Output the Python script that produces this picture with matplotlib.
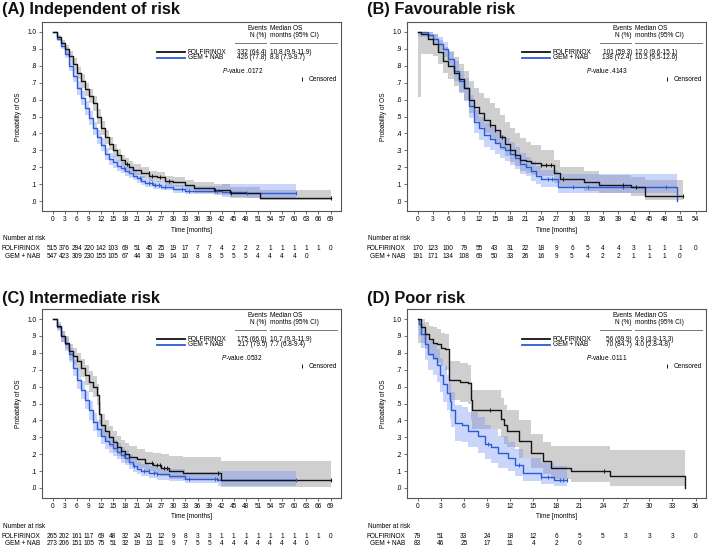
import numpy as np
import matplotlib
matplotlib.use("Agg")
import matplotlib.pyplot as plt

plt.rcParams['font.family'] = ['Liberation Sans', 'DejaVu Sans']
plt.rcParams['mathtext.fontset'] = 'custom'
plt.rcParams['mathtext.it'] = 'Liberation Sans:italic'
plt.rcParams['mathtext.rm'] = 'Liberation Sans'

# ---------------- data ----------------
# (A) Independent of risk
a_fol_t = [0, 1, 2, 3, 4, 5, 6, 7, 8, 9, 10, 11, 12, 13, 14, 15, 16, 17, 18, 19, 20, 22, 24, 26, 28, 30, 33, 35, 40, 44, 51.5, 69]
a_fol_s = [1.0, .97, .935, .90, .86, .81, .76, .71, .66, .62, .58, .50, .43, .38, .34, .30, .27, .24, .22, .20, .185, .165, .15, .14, .12, .11, .095, .075, .065, .05, .02, .02]
a_fol_lo = [1.0, .955, .91, .87, .83, .775, .72, .67, .62, .58, .535, .455, .39, .34, .30, .26, .235, .205, .185, .17, .155, .135, .12, .11, .09, .08, .065, .05, .035, .02, .003, .003]
a_fol_hi = [1.0, .985, .955, .925, .89, .845, .795, .75, .70, .66, .62, .545, .475, .42, .38, .34, .31, .275, .255, .235, .22, .20, .18, .17, .15, .14, .125, .11, .10, .085, .065, .065]
a_fol_cens = [18.5, 23.9, 24.7, 26.8, 28.9, 40.4, 44.2, 69]
a_gem_t = [0, 1, 2, 3, 4, 5, 6, 7, 8, 9, 10, 11, 12, 13, 14, 15, 16, 17, 18, 19, 20, 21, 22, 23, 25, 27, 30, 33, 42, 48, 60.5]
a_gem_s = [1.0, .96, .92, .87, .80, .74, .67, .61, .55, .49, .43, .38, .33, .28, .25, .23, .21, .195, .18, .165, .15, .135, .12, .108, .095, .085, .07, .062, .055, .05, .05]
a_gem_lo = [1.0, .945, .90, .845, .77, .705, .63, .57, .51, .45, .39, .34, .295, .245, .215, .195, .18, .165, .15, .135, .122, .108, .095, .085, .072, .063, .05, .04, .025, .02, .02]
a_gem_hi = [1.0, .975, .94, .895, .83, .775, .71, .65, .59, .53, .47, .42, .37, .315, .285, .265, .245, .23, .21, .195, .18, .165, .148, .135, .12, .11, .095, .09, .10, .10, .10]
a_gem_cens = [17.7, 21.8, 23.9, 24.7, 25.5, 26.4, 28.0, 32.2, 33.8, 40.9, 48.3, 60.5]
a_risk_fol = [515, 376, 294, 220, 142, 103, 69, 51, 45, 25, 19, 17, 7, 7, 4, 2, 2, 2, 1, 1, 1, 1, 1, 0]
a_risk_gem = [547, 423, 309, 230, 155, 105, 67, 44, 30, 19, 14, 10, 8, 8, 5, 5, 5, 4, 4, 4, 4, 0]
a_stats = [["332 (64.4)", "10.8 (9.9-11.9)"], ["426 (77.8)", "8.8 (7.9-9.7)"]]
a_pval = ".0172"

# (B) Favourable risk
b_fol_t = [0, 0.6, 2, 3, 4, 5, 6, 7, 8, 9, 10, 11, 12, 13, 14, 15, 16, 17, 18, 19, 20, 21, 22, 24, 26.5, 27.7, 32.4, 35.3, 41.5, 44.1, 51.5]
b_fol_s = [1.0, .99, .96, .93, .88, .83, .80, .76, .72, .67, .60, .555, .52, .48, .45, .42, .38, .34, .30, .275, .245, .235, .225, .215, .165, .13, .11, .095, .08, .03, .03]
b_fol_lo = [.615, .87, .87, .86, .81, .76, .72, .68, .64, .59, .52, .475, .44, .40, .37, .34, .30, .265, .23, .205, .175, .165, .155, .145, .105, .075, .06, .045, .03, .003, .003]
b_fol_hi = [1.0, 1.0, 1.0, .99, .95, .91, .88, .85, .81, .77, .71, .67, .64, .61, .58, .55, .51, .47, .43, .40, .37, .35, .33, .30, .24, .20, .175, .155, .14, .125, .125]
b_fol_cens = [14.0, 15.0, 16.5, 24.0, 25.0, 26.0, 28.2, 39.9, 42.5, 51.5]
b_gem_t = [0, 2, 3, 4, 5, 6, 7, 8, 9, 10, 11, 12, 13, 14, 15, 16, 17, 18, 19, 20, 21, 22, 23, 24, 27.2, 50.4]
b_gem_s = [1.0, .98, .96, .93, .90, .84, .77, .71, .67, .56, .47, .43, .39, .365, .345, .32, .30, .28, .255, .22, .20, .175, .15, .13, .085, 0.0]
b_gem_lo = [.97, .95, .93, .89, .85, .79, .71, .645, .60, .49, .40, .36, .32, .30, .28, .255, .235, .215, .19, .16, .145, .12, .10, .08, .05, 0.0]
b_gem_hi = [1.0, 1.0, .99, .97, .94, .89, .83, .77, .73, .63, .54, .50, .46, .435, .415, .39, .37, .35, .32, .285, .26, .235, .21, .185, .158, 0.0]
b_gem_cens = [25.4, 26.2, 30.3, 33.1, 39.9, 48.3]
b_risk_fol = [170, 123, 100, 79, 55, 43, 31, 22, 18, 9, 6, 5, 4, 4, 3, 1, 1, 1, 0]
b_risk_gem = [191, 171, 134, 108, 69, 50, 33, 26, 16, 9, 5, 4, 2, 2, 1, 1, 1, 0]
b_stats = [["101 (59.3)", "12.0 (9.6-15.1)"], ["138 (72.4)", "10.5 (9.5-12.6)"]]
b_pval = ".4143"

# (C) Intermediate risk
c_fol_t = [0, 1, 2, 3, 4, 5, 6, 7, 8, 9, 10, 11, 11.5, 12, 13, 14, 15, 16, 17, 18, 19, 21, 23, 25, 27, 29, 32.5, 41.7, 69]
c_fol_s = [1.0, .96, .90, .86, .81, .78, .75, .71, .67, .63, .60, .55, .44, .37, .34, .30, .27, .245, .22, .20, .185, .17, .15, .135, .12, .10, .09, .047, .047]
c_fol_lo = [1.0, .94, .865, .82, .76, .73, .695, .655, .61, .57, .54, .49, .38, .31, .28, .245, .215, .19, .17, .15, .135, .12, .10, .085, .07, .055, .045, .005, .005]
c_fol_hi = [1.0, .98, .93, .90, .855, .83, .80, .765, .725, .69, .66, .615, .51, .44, .40, .365, .335, .31, .285, .265, .25, .23, .215, .205, .20, .19, .185, .16, .16]
c_fol_cens = [24.7, 25.9, 26.8, 27.6, 28.4, 41.2, 69]
c_gem_t = [0, 1, 2, 3, 4, 5, 6, 7, 8, 9, 10, 11, 12, 13, 14, 15, 16, 17, 18, 19, 20, 21, 22, 24, 26, 29, 33, 41, 60.5]
c_gem_s = [1.0, .95, .90, .85, .79, .71, .64, .58, .52, .46, .39, .35, .31, .28, .26, .235, .215, .195, .18, .155, .13, .115, .10, .09, .08, .07, .055, .047, .047]
c_gem_lo = [1.0, .93, .865, .81, .745, .66, .585, .525, .465, .405, .335, .30, .26, .23, .21, .19, .17, .15, .135, .115, .095, .08, .07, .06, .05, .04, .03, .012, .012]
c_gem_hi = [1.0, .97, .93, .885, .83, .755, .69, .635, .575, .515, .445, .405, .365, .33, .31, .285, .265, .245, .225, .20, .175, .155, .14, .13, .12, .11, .095, .10, .10]
c_gem_cens = [17.7, 20.2, 22.6, 23.9, 25.1, 26.0, 33.8, 40.4, 40.9, 60.5]
c_risk_fol = [265, 202, 161, 117, 69, 48, 32, 24, 21, 12, 9, 8, 3, 3, 1, 1, 1, 1, 1, 1, 1, 1, 1, 0]
c_risk_gem = [273, 206, 151, 105, 75, 51, 32, 19, 13, 11, 9, 7, 5, 5, 4, 4, 4, 4, 4, 4, 4, 0]
c_stats = [["175 (66.0)", "10.7 (9.3-11.9)"], ["217 (79.5)", "7.7 (6.8-9.4)"]]
c_pval = ".0532"

# (D) Poor risk
d_fol_t = [0, 0.5, 1, 1.5, 2, 2.5, 3, 3.5, 4.1, 5.5, 6.5, 6.9, 7.1, 10.8, 11.2, 11.6, 13.2, 14.7, 16.3, 17.3, 19.9, 24.9, 34.6]
d_fol_s = [1.0, .95, .91, .88, .86, .85, .83, .82, .64, .63, .62, .52, .46, .41, .37, .34, .28, .21, .16, .12, .10, .07, 0.0]
d_fol_lo = [.86, .86, .82, .78, .76, .74, .72, .70, .52, .51, .50, .40, .35, .30, .26, .24, .18, .12, .08, .055, .035, .012, 0.0]
d_fol_hi = [1.0, 1.0, .98, .96, .95, .94, .92, .91, .75, .74, .73, .63, .58, .53, .49, .46, .40, .32, .27, .25, .25, .225, 0.0]
d_fol_cens = [9.4, 24.2]
d_gem_t = [0, 0.2, 0.5, 1.0, 1.4, 2.0, 2.5, 2.9, 3.3, 3.8, 4.2, 4.4, 4.8, 5.7, 6.5, 7.8, 8.7, 9.5, 10.4, 11.7, 12.6, 13.6, 16.0, 17.7, 19.3]
d_gem_s = [1.0, .97, .91, .85, .79, .77, .73, .67, .615, .565, .515, .46, .385, .37, .34, .31, .26, .24, .205, .175, .135, .087, .067, .045, .045]
d_gem_lo = [.95, .90, .83, .76, .70, .67, .63, .57, .51, .46, .41, .36, .28, .27, .24, .21, .17, .15, .12, .10, .07, .04, .025, .012, .012]
d_gem_hi = [1.0, 1.0, .97, .92, .87, .85, .82, .77, .72, .67, .62, .57, .49, .48, .45, .42, .37, .35, .31, .27, .23, .18, .15, .13, .13]
d_gem_cens = [9.1, 13.2, 16.0, 16.9, 18.4, 18.8, 19.3]
d_risk_fol = [79, 51, 33, 24, 18, 12, 6, 5, 5, 3, 3, 3, 0]
d_risk_gem = [83, 46, 25, 17, 11, 4, 2, 0]
d_stats = [["56 (69.9)", "6.9 (3.9-13.3)"], ["70 (84.7)", "4.0 (2.8-4.8)"]]
d_pval = ".0111"

arms = ["FOLFIRINOX", "GEM + NAB"]

# ---------------- styling ----------------
W, H = 709, 549
AW, AH = 299, 189          # axes size in px
BLACK = '#141414'
BLUE = '#2b5bd9'
GRAY_BAND = '#a9a9a9'
BLUE_BAND = '#7392f0'
SPINE = '#555555'
FS = 4.7

fig = plt.figure(figsize=(W / 100, H / 100), dpi=100)


def surv_at(t, s, tc):
    i = np.searchsorted(t, tc, side='right') - 1
    return np.asarray(s)[i]


def draw_panel(left, top, title, title_gap, xmax, fol, gem, risk_fol, risk_gem, stats, pval):
    ax = fig.add_axes([left / W, 1 - (top + AH) / H, AW / W, AH / H])
    k = 278.0 / xmax
    ax.set_xlim(-10.5 / k, xmax + 10.5 / k)
    ax.set_ylim(-10 / 169, 1 + 10 / 169)

    # confidence bands
    ax.fill_between(fol[0], fol[2], fol[3], step='post', color=GRAY_BAND, alpha=0.55, lw=0, zorder=1)
    ax.fill_between(gem[0], gem[2], gem[3], step='post', color=BLUE_BAND, alpha=0.38, lw=0, zorder=2)

    # survival curves + censor marks
    for (t, s, lo, hi, cens), col in [(gem, BLUE), (fol, BLACK)]:
        ax.step(t, s, where='post', color=col, lw=1.0, zorder=3)
        ax.plot(cens, surv_at(t, s, cens), ls='none', marker='|', ms=3.2, mew=0.7, color=col, zorder=4)

    # axes styling
    xt = np.arange(0, xmax + 1, 3)
    ax.set_xticks(xt)
    ax.set_xticklabels([str(v) for v in xt])
    yt = np.round(np.arange(0, 1.01, 0.1), 1)
    ax.set_yticks(yt)
    ax.set_yticklabels(['1.0' if v == 1 else '.%d' % round(v * 10) for v in yt])
    ax.tick_params(length=2.4, width=0.6, color=SPINE, labelsize=FS, pad=1.5)
    for sp in ax.spines.values():
        sp.set_color(SPINE)
        sp.set_linewidth(0.8)
    ax.set_ylabel('Probability of OS', fontsize=FS)
    ax.yaxis.set_label_coords(-20 / AW, 0.5)
    ax.text(0.5, -19 / AH, 'Time [months]', transform=ax.transAxes, ha='center', va='center', fontsize=FS)

    # number at risk table
    ax.text(-39 / AW, -28 / AH, 'Number at risk', transform=ax.transAxes, ha='left', va='center', fontsize=FS)
    xtr = ax.get_xaxis_transform()
    for row, (name, vals) in enumerate(zip(arms, [risk_fol, risk_gem])):
        y = (-38 - 7.5 * row) / AH
        ax.text(-2 / AW, y, name, transform=ax.transAxes, ha='right', va='center', fontsize=FS)
        for x, v in zip(xt, vals):
            ax.text(x, y, str(v), transform=xtr, ha='center', va='center', fontsize=FS)

    # in-plot legend / summary table
    tr = ax.transAxes
    ax.text(0.7525, 0.968, 'Events', transform=tr, ha='right', va='center', fontsize=FS)
    ax.text(0.7525, 0.931, 'N (%)', transform=tr, ha='right', va='center', fontsize=FS)
    ax.text(0.7625, 0.968, 'Median OS', transform=tr, ha='left', va='center', fontsize=FS)
    ax.text(0.7625, 0.931, 'months (95% CI)', transform=tr, ha='left', va='center', fontsize=FS)
    ax.plot([0.6455, 0.749], [0.889, 0.889], transform=tr, color='#777777', lw=0.7, clip_on=False)
    ax.plot([0.7625, 0.987], [0.889, 0.889], transform=tr, color='#777777', lw=0.7, clip_on=False)
    for i, (name, col) in enumerate(zip(arms, [BLACK, BLUE])):
        y = 0.841 - 0.031 * i
        ax.plot([0.3846, 0.478], [y, y], transform=tr, color=col, lw=1.3, clip_on=False)
        ax.text(0.488, y, name, transform=tr, ha='left', va='center', fontsize=FS)
        ax.text(0.7525, y, stats[i][0], transform=tr, ha='right', va='center', fontsize=FS)
        ax.text(0.7625, y, stats[i][1], transform=tr, ha='left', va='center', fontsize=FS)
    ax.text(0.74, 0.7425, r'$\it{P}$-value ' + pval, transform=tr, ha='right', va='center', fontsize=FS)
    ax.plot([0.868], [0.698], transform=tr, marker='|', ms=3.2, mew=0.7, color=BLACK, ls='none')
    ax.text(0.893, 0.698, 'Censored', transform=tr, ha='left', va='center', fontsize=FS)

    fig.text((left - 40) / W, 1 - (top - title_gap) / H, title, ha='left', va='baseline',
             fontsize=11.8, fontweight='bold', color='#111111')
    return ax


draw_panel(42, 22, '(A) Independent of risk', 8, 69,
           (a_fol_t, a_fol_s, a_fol_lo, a_fol_hi, a_fol_cens),
           (a_gem_t, a_gem_s, a_gem_lo, a_gem_hi, a_gem_cens),
           a_risk_fol, a_risk_gem, a_stats, a_pval)
draw_panel(407, 22, '(B) Favourable risk', 8, 54,
           (b_fol_t, b_fol_s, b_fol_lo, b_fol_hi, b_fol_cens),
           (b_gem_t, b_gem_s, b_gem_lo, b_gem_hi, b_gem_cens),
           b_risk_fol, b_risk_gem, b_stats, b_pval)
draw_panel(42, 309, '(C) Intermediate risk', 6, 69,
           (c_fol_t, c_fol_s, c_fol_lo, c_fol_hi, c_fol_cens),
           (c_gem_t, c_gem_s, c_gem_lo, c_gem_hi, c_gem_cens),
           c_risk_fol, c_risk_gem, c_stats, c_pval)
draw_panel(407, 309, '(D) Poor risk', 6, 36,
           (d_fol_t, d_fol_s, d_fol_lo, d_fol_hi, d_fol_cens),
           (d_gem_t, d_gem_s, d_gem_lo, d_gem_hi, d_gem_cens),
           d_risk_fol, d_risk_gem, d_stats, d_pval)

fig.savefig('out.png', dpi=100)
